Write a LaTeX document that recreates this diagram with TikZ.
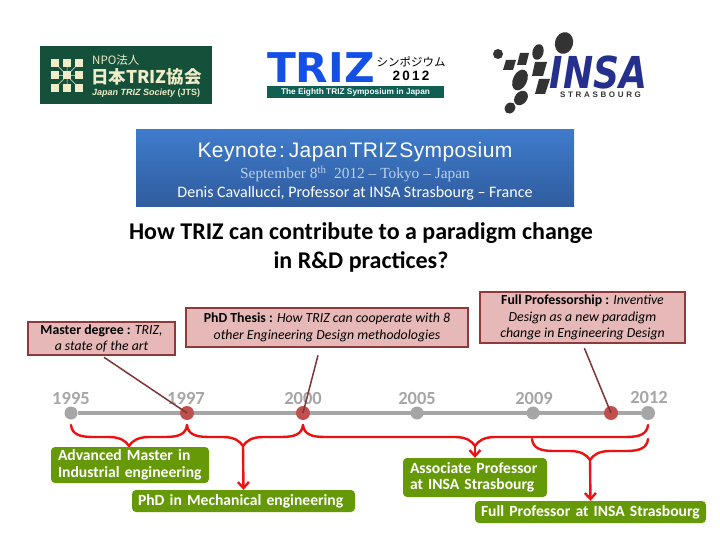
\documentclass[tikz,border=0pt]{standalone}
\usepackage{fontspec}
\setmainfont{Carlito}
\newfontfamily\arialfont{Liberation Sans}
\newfontfamily\heavyfont{DejaVu Sans}
\newfontfamily\keyfont[LetterSpace=2,WordSpace=0.3]{Liberation Sans}
\newfontfamily\timesfont{Liberation Serif}
\newfontfamily\cjkfont{Noto Sans CJK JP}
\usetikzlibrary{arrows.meta,calc,backgrounds}
\definecolor{bandtop}{HTML}{3F7BCB}
\definecolor{bandbot}{HTML}{2F5C9E}
\definecolor{pinkfill}{HTML}{E6B9B8}
\definecolor{pinkline}{HTML}{8E3A3A}
\definecolor{leaderred}{HTML}{7F3535}
\definecolor{dotred}{HTML}{C0504D}
\definecolor{greybar}{HTML}{A6A6A6}
\definecolor{greenbox}{HTML}{669908}
\definecolor{bracered}{HTML}{EE1111}
\definecolor{jtsgreen}{HTML}{15503A}
\definecolor{jtscream}{HTML}{F0EBC8}
\definecolor{trizblue}{HTML}{1450E6}
\definecolor{trizbar}{HTML}{0F5F55}
\definecolor{insablue}{HTML}{25308C}
\definecolor{insagrey}{HTML}{333333}
\tikzset{
  pinkbox/.style={draw=pinkline,line width=1.2pt,fill=pinkfill,inner sep=0pt,align=center,
    font=\fontsize{13.8}{16.8}\selectfont},
  greenlabel/.style={fill=greenbox,rounded corners=4pt,inner sep=0pt,align=left,text=white,
    font=\fontsize{15.6}{16.5}\selectfont\bfseries},
  yeardot/.style={circle,fill=greybar,minimum size=13pt,inner sep=0pt},
  reddot/.style={circle,fill=dotred,minimum size=14pt,inner sep=0pt},
  yearlabel/.style={text=greybar,font=\fontsize{18.5}{20}\selectfont\bfseries,inner sep=0pt},
  leader/.style={draw=leaderred,line width=1.5pt},
  curly/.style={draw=bracered,line width=2.4pt,line cap=round},
  pointer/.style={draw=bracered,line width=2.4pt,-{Straight Barb[length=6pt,width=11pt]}},
}
% accolade : gauche, pointe, droite
\newcommand{\curlybrace}[3]{
  \draw[curly] (#1) .. controls ($(#1)+(1,9)$) and ($(#1)+(8,12)$) .. ($(#1)+(22,12)$)
    -- ($(#2)+(-20,-9)$) .. controls ($(#2)+(-9,-9)$) and ($(#2)+(-3,-5)$) .. (#2)
    .. controls ($(#2)+(3,-5)$) and ($(#2)+(9,-9)$) .. ($(#2)+(20,-9)$)
    -- ($(#3)+(-22,12)$) .. controls ($(#3)+(-8,12)$) and ($(#3)+(-1,9)$) .. (#3);
}
\begin{document}
\begin{tikzpicture}[x=1pt,y=-1pt]
  \useasboundingbox (0,0) rectangle (720,540);
  % logo japan triz society
  \fill[jtsgreen] (40,46) rectangle (212,104);
  \draw[jtscream,line width=0.5pt] (55,63) -- (79,88) (79,63) -- (55,88) (55,75.5) -- (79,75.5) (67,63) -- (67,88);
  \foreach \gx in {55,67,79} \foreach \gy in {63,75.5,88} {
    \fill[jtscream] (\gx-4,\gy-4) rectangle (\gx+4,\gy+4);
  }
  \node[text=jtscream,inner sep=0pt,anchor=west] (jtsnpo) at (92,60) {\cjkfont\fontsize{11.5}{12}\selectfont NPO法人};
  \node[text=jtscream,inner sep=0pt,anchor=west] (jtsname) at (91,77) {\cjkfont\fontsize{17.5}{18}\selectfont\bfseries 日本TRIZ協会};
  \node[text=jtscream,inner sep=0pt,anchor=west] (jtssub) at (92,93) {\arialfont\fontsize{9}{9}\selectfont\bfseries\itshape Japan TRIZ Society \upshape(JTS)};
  % logo symposium
  \node[text=trizblue,inner sep=0pt,xscale=1.03] (trizname) at (321,68) {\heavyfont\fontsize{41}{41}\selectfont\bfseries TRIZ};
  \fill[trizbar] (267,86) rectangle (444,98);
  \node[text=white,inner sep=0pt] (trizsub) at (355.5,92) {\arialfont\fontsize{8.3}{9}\selectfont\bfseries The Eighth TRIZ Symposium in Japan};
  \node[inner sep=0pt] (trizjp) at (411,62) {\cjkfont\fontsize{11.5}{12}\selectfont シンポジウム};
  \node[inner sep=0pt] (trizyear) at (411,76) {\arialfont\fontsize{13.5}{14}\selectfont\bfseries 2\,0\,1\,2};
  % logo insa
  \node[text=insablue,inner sep=0pt,xscale=0.82] (insaname) at (598.5,72) {\heavyfont\fontsize{44}{44}\selectfont\bfseries\itshape INSA};
  \node[text=insagrey,inner sep=0pt] (insacity) at (600.5,95) {\arialfont\fontsize{8}{8}\selectfont\bfseries S\,\,T\,\,R\,\,A\,\,S\,\,B\,\,O\,\,U\,\,R\,\,G};
  \fill[insagrey,rotate around={-15:(564,43)}] (564,43) ellipse (9 and 11);
  \fill[insagrey,rotate around={-15:(538,52)}] (538,52) ellipse (5.5 and 8);
  \fill[insagrey] (498,54) ellipse (5 and 5);
  \fill[insagrey] (506,60) -- (516,60) -- (513,70) -- (503,70) -- cycle;
  \fill[insagrey] (520,53) -- (529,53) -- (526,65) -- (517,65) -- cycle;
  \fill[insagrey] (535,62) -- (547,62) -- (543,76) -- (532,76) -- cycle;
  \fill[insagrey] (539,79) -- (550,79) -- (545,94) -- (535,94) -- cycle;
  \fill[insagrey,rotate around={-25:(520,80)}] (520,80) ellipse (7 and 11);
  \fill[insagrey,rotate around={-40:(521,98)}] (521,98) ellipse (6 and 8);
  \fill[insagrey,rotate around={-40:(510,108)}] (510,108) ellipse (5 and 6);
  % bandeau
  \node[top color=bandtop,bottom color=bandbot,minimum width=438pt,minimum height=77pt,inner sep=0pt] (band) at (355,168.5) {};
  \node[text=white,inner sep=0pt] (keynote) at (355,152) {\keyfont\fontsize{21}{22}\selectfont Keynote : Japan TRIZ Symposium};
  \node[text=white!65!bandtop,inner sep=0pt] (datum) at (355,174) {\timesfont\fontsize{15.4}{17}\selectfont September 8\textsuperscript{th}\ \ 2012 – Tokyo – Japan};
  \node[text=white,inner sep=0pt] (speaker) at (355,193) {\fontsize{16}{17}\selectfont Denis Cavallucci, Professor at INSA Strasbourg – France};
  % titre
  \node[align=center,inner sep=0pt,font=\fontsize{24}{29}\selectfont\bfseries] (titel) at (361,247) {How TRIZ can contribute to a paradigm change\\in R\&D practices?};
  % frise
  \node[yeardot] (y1995) at (71,413) {};
  \node[reddot] (y1997) at (187,413) {};
  \node[reddot] (y2000) at (303,413) {};
  \node[yeardot] (y2005) at (417,413) {};
  \node[yeardot] (y2009) at (533,413) {};
  \node[reddot] (y2011) at (611,413) {};
  \node[yeardot,minimum size=14pt] (y2012) at (648,413) {};
  \begin{scope}[on background layer]
    \draw[greybar,line width=4pt] (y1995) -- (y2012);
  \end{scope}
  \node[yearlabel] (t1995) at (71,398) {1995};
  \node[yearlabel] (t1997) at (186,398) {1997};
  \node[yearlabel] (t2000) at (303,398) {2000};
  \node[yearlabel] (t2005) at (417,398) {2005};
  \node[yearlabel] (t2009) at (534,398) {2009};
  \node[yearlabel] (t2012) at (649,397) {2012};
  % encadres
  \node[pinkbox,minimum width=147pt,minimum height=33pt] (master) at (101.5,338.5) {\textbf{Master degree :} \textit{TRIZ,}\\\textit{a state of the art}};
  \node[pinkbox,minimum width=282pt,minimum height=39pt] (thesis) at (327,327.5) {\textbf{PhD Thesis :} \textit{How TRIZ can cooperate with 8}\\\textit{other Engineering Design methodologies}};
  \node[pinkbox,minimum width=205pt,minimum height=51pt] (fullprof) at (582.5,317.5) {\textbf{Full Professorship :} \textit{Inventive}\\\textit{Design as a new paradigm}\\\textit{change in Engineering Design}};
  \draw[leader,shorten <=3pt] (master.south) -- (y1997.center);
  \draw[leader,shorten <=8pt] ([xshift=-7pt]thesis.south) -- (y2000.center);
  \draw[leader,shorten <=5pt] (fullprof.south) -- (y2011.center);
  % accolades
  \coordinate (a1) at (71,425);
  \coordinate (a2) at (187,425);
  \coordinate (a3) at (303,425);
  \coordinate (a4) at (648,425);
  \coordinate (b1) at (532,439);
  \coordinate (b2) at (648,439);
  \coordinate (tipmaster) at (129,446);
  \coordinate (tipphd) at (243,446);
  \coordinate (tipassoc) at (475,446);
  \coordinate (tipfull) at (590,460);
  \curlybrace{a1}{tipmaster}{a2}
  \curlybrace{a2}{tipphd}{a3}
  \curlybrace{a3}{tipassoc}{a4}
  \curlybrace{b1}{tipfull}{b2}
  % titres obtenus
  \node[greenlabel,minimum width=158pt,minimum height=36pt,text width=144pt] (advanced) at (130,465) {Advanced Master in\\Industrial engineering};
  \node[greenlabel,minimum width=223pt,minimum height=22pt,text width=211pt] (phdmech) at (243.5,501) {PhD in Mechanical engineering};
  \node[greenlabel,minimum width=144pt,minimum height=39pt,text width=130pt] (assoc) at (475,477.5) {Associate Professor\\at INSA Strasbourg};
  \node[greenlabel,minimum width=231pt,minimum height=22pt,text width=219pt] (fullinsa) at (590.5,512) {Full Professor at INSA Strasbourg};
  \draw[pointer] (tipphd) -- (phdmech.north);
  \draw[pointer] (tipassoc) -- (assoc.north);
  \draw[pointer] (tipfull) -- (fullinsa.north);
\end{tikzpicture}
\end{document}
